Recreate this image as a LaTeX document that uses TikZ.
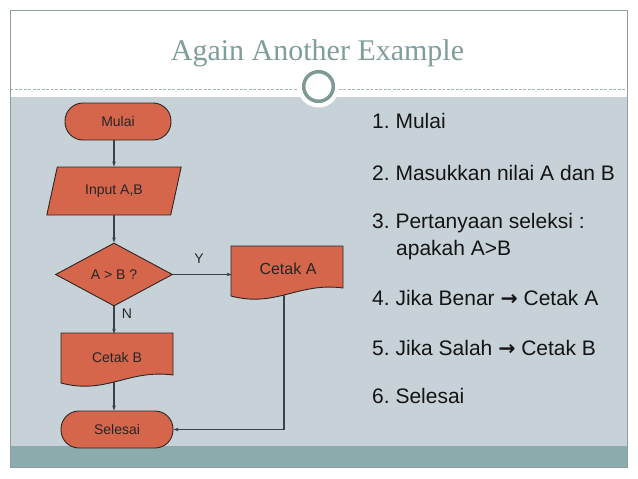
\documentclass[tikz,border=0pt]{standalone}
\usepackage{fontspec}
\setmainfont{Liberation Sans}
\newfontfamily\titlefont{Liberation Serif}
\newfontfamily\arrowfont{DejaVu Sans}
\usetikzlibrary{shapes.geometric,arrows.meta,calc}
\frenchspacing
\definecolor{shapefill}{HTML}{D5654B}
\definecolor{shapeline}{HTML}{2E2624}
\definecolor{bodybg}{HTML}{C7D2D8}
\definecolor{tealbar}{HTML}{8BACAC}
\definecolor{framecol}{HTML}{8C9EA0}
\definecolor{titlecol}{HTML}{7F9D9B}
\definecolor{ringcol}{HTML}{7D9A97}
\definecolor{linecol}{HTML}{3A4147}
\definecolor{dashcol}{HTML}{A3B2B2}
\newcommand\docoutline[2]{%
  \begin{scope}[shift={(#1,#2)}]
    \filldraw[fill=shapefill, draw=shapeline, line width=0.9pt]
      (0,50) .. controls (45,62) and (67,36) .. (112,42) -- (112,0) -- (0,0) -- cycle;
  \end{scope}}
\begin{document}
\begin{tikzpicture}[x=1pt,y=-1pt,
  shapebase/.style={fill=shapefill, draw=shapeline, line width=0.9pt, inner sep=0pt,
    font=\fontsize{14}{16}\selectfont, text=black!85},
  term/.style={shapebase, rectangle, rounded corners=18pt, minimum height=37pt},
  para/.style={shapebase, trapezium, trapezium left angle=67, trapezium right angle=113,
    trapezium stretches=true, minimum width=135pt, minimum height=48pt},
  decide/.style={shapebase, diamond, aspect=1.85, minimum width=117pt, minimum height=63pt},
  docbox/.style={rectangle, inner sep=0pt, minimum width=112pt, minimum height=46pt,
    font=\fontsize{14}{16}\selectfont, text=black!85},
  arr/.style={draw=linecol, line width=1.2pt, -{Stealth[length=5pt,width=3.5pt]}},
  lbl/.style={font=\fontsize{14}{16}\selectfont, text=black!85, inner sep=0pt},
  steptext/.style={font=\fontsize{21}{24}\selectfont, text=black!92, anchor=base west, inner sep=0pt}
]
\useasboundingbox (0,0) rectangle (638,479);
% slide frame
\fill[white] (0,0) rectangle (638,479);
\fill[bodybg] (10,97) rectangle (627,446);
\fill[tealbar] (10,446) rectangle (627,467);
\draw[dashcol, line width=0.7pt, dash pattern=on 3pt off 1.5pt] (10,89) -- (627,89);
\fill[white] (318.5,86.5) circle[radius=21pt];
\draw[ringcol, line width=3.5pt] (318.5,86.5) circle[radius=14.8pt];
\draw[framecol, line width=1pt] (10,10) rectangle (627,467);
\node[font=\titlefont\fontsize{30}{34}\selectfont, text=titlecol, anchor=base, inner sep=0pt]
  (title) at (317.5,60) {Again Another Example};
% flowchart
\node[term, minimum width=106pt] (mulai) at (118,121.5) {Mulai};
\node[para] (inp) at (114,191) {Input A,B};
\node[decide] (diam) at (114,274.5) {A > B ?};
\docoutline{231}{246}
\node[docbox, font=\fontsize{16}{18}\selectfont] (ca) at (288,269) {Cetak A};
\docoutline{61}{333}
\node[docbox] (cb) at (117,357) {Cetak B};
\node[term, minimum width=112pt] (sel) at (117,429.5) {Selesai};
\coordinate (caout) at (284,295);
\coordinate (cbout) at (114,382);
\draw[arr] (mulai.south -| diam.north) -- (inp.north -| diam.north);
\draw[arr] (inp.south -| diam.north) -- (diam.north);
\draw[arr] (diam.east) -- (diam.east -| ca.west);
\draw[arr] (diam.south) -- (diam.south |- cb.north);
\draw[arr] (cbout) -- (cbout |- sel.north);
\draw[arr] (caout) |- (sel.east);
\node[lbl] (ylab) at (199,259) {Y};
\node[lbl] (nlab) at (127,314) {N};
% steps
\node[steptext] (s1) at (372,128) {1. Mulai};
\node[steptext] (s2) at (372,180) {2. Masukkan nilai A dan B};
\node[steptext] (s3) at (372,228) {3. Pertanyaan seleksi :};
\node[steptext] (s3b) at (396,255) {apakah A>B};
\node[steptext] (s4) at (372,305) {4. Jika Benar {\arrowfont\bfseries\fontsize{20.5}{24}\selectfont →} Cetak A};
\node[steptext] (s5) at (372,355) {5. Jika Salah {\arrowfont\bfseries\fontsize{20.5}{24}\selectfont →} Cetak B};
\node[steptext] (s6) at (372,403) {6. Selesai};
\end{tikzpicture}
\end{document}
